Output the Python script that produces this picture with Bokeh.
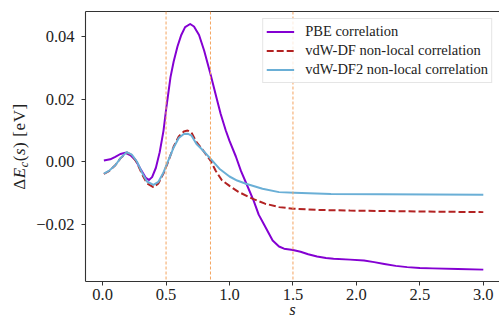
from bokeh.plotting import figure
from bokeh.layouts import row
from bokeh.models import (Range1d, LinearAxis, FixedTicker, Span, Legend, LegendItem, Div)
from bokeh.embed import file_html
from bokeh.resources import INLINE

# ---------------- data ----------------
pbe_s = [0.01, 0.06, 0.10, 0.14, 0.18, 0.22, 0.26, 0.30, 0.34, 0.365, 0.39, 0.42, 0.45,
         0.48, 0.50, 0.535, 0.56, 0.59, 0.62, 0.65, 0.69, 0.72, 0.76, 0.80, 0.85, 0.90,
         0.93, 0.97, 1.00, 1.05, 1.09, 1.13, 1.19, 1.23, 1.27, 1.34, 1.39, 1.43, 1.50, 1.56,
         1.62, 1.69, 1.76, 1.82, 1.95, 2.06, 2.14, 2.22, 2.31, 2.40, 2.50, 2.60, 2.80, 3.00]
pbe_v = [0.0003, 0.0007, 0.0015, 0.0024, 0.0028, 0.0020, 0.0004, -0.0025, -0.0052, -0.0059,
         -0.0050, -0.0020, 0.0030, 0.0099, 0.0165, 0.0270, 0.0320, 0.0368, 0.0405, 0.0430,
         0.0440, 0.0432, 0.0405, 0.0355, 0.0280, 0.0200, 0.0153, 0.0100, 0.0066, 0.0016,
         -0.0030, -0.0068, -0.0125, -0.0170, -0.0200, -0.0253, -0.0272, -0.0279, -0.0283,
         -0.0289, -0.0297, -0.0304, -0.0309, -0.0311, -0.0314, -0.0317, -0.0322, -0.0328,
         -0.0334, -0.0338, -0.0341, -0.0342, -0.0344, -0.0346]

df_s = [0.01, 0.05, 0.10, 0.14, 0.19, 0.23, 0.27, 0.31, 0.35, 0.40, 0.44, 0.48, 0.52, 0.56,
        0.60, 0.64, 0.67, 0.70, 0.74, 0.78, 0.85, 0.89, 0.94, 1.00, 1.07, 1.18, 1.28, 1.39,
        1.50, 1.70, 1.95, 2.50, 3.00]
df_v = [-0.0040, -0.0031, -0.0012, 0.0010, 0.0029, 0.0020, -0.0003, -0.0040, -0.0070, -0.0082,
        -0.0070, -0.0038, 0.0003, 0.0048, 0.0080, 0.0096, 0.0099, 0.0093, 0.0062, 0.0042,
        0.0003, -0.0029, -0.0060, -0.0078, -0.0097, -0.0119, -0.0135, -0.0146, -0.0151,
        -0.0155, -0.0157, -0.0160, -0.0162]

df2_s = [0.01, 0.05, 0.10, 0.14, 0.19, 0.23, 0.27, 0.31, 0.35, 0.40, 0.44, 0.48, 0.52, 0.56,
         0.60, 0.64, 0.67, 0.70, 0.74, 0.78, 0.85, 0.92, 1.00, 1.06, 1.13, 1.26, 1.39, 1.51,
         1.80, 2.20, 3.00]
df2_v = [-0.0039, -0.0030, -0.0012, 0.0010, 0.0030, 0.0022, 0.0000, -0.0035, -0.0064, -0.0075,
         -0.0065, -0.0035, 0.0005, 0.0045, 0.0075, 0.0088, 0.0089, 0.0083, 0.0056, 0.0040,
         0.0009, -0.0023, -0.0048, -0.0061, -0.0071, -0.0087, -0.0098, -0.0100, -0.0104,
         -0.0105, -0.0106]

vlines = [0.5, 0.85, 1.5]

legend_labels = ["PBE correlation", "vdW-DF non-local correlation", "vdW-DF2 non-local correlation"]

x_ticks = [0.0, 0.5, 1.0, 1.5, 2.0, 2.5, 3.0]
x_tick_labels = ["0.0", "0.5", "1.0", "1.5", "2.0", "2.5", "3.0"]
y_ticks = [0.04, 0.02, 0.0, -0.02]
y_tick_labels = ["0.04", "0.02", "0.00", "\u22120.02"]
x_label = "s"
y_label_html = "\u0394<i>E</i><sub><i>c</i></sub>(<i>s</i>) [eV]"

# ---------------- styling ----------------
FONT = "Liberation Serif"
AX = "#333333"
TXT = "#222222"
C_PBE = "#8400d2"
C_DF = "#b22222"
C_DF2 = "#6aafd6"
C_V = "#f4a460"

W, H = 499, 322
YW = 32                      # strip that holds the y-axis title
L, T, B = 85 - YW, 11, 41

X0, X1 = -0.1348, 3.1276
Y0, Y1 = -0.0384, 0.0480

p = figure(width=W - YW, height=H, output_backend="svg", toolbar_location=None,
           x_range=Range1d(X0, X1), y_range=Range1d(Y0, Y1),
           x_axis_location=None, y_axis_location=None,
           min_border_left=L, min_border_right=0, min_border_top=T, min_border_bottom=B)
p.outline_line_color = None
p.xgrid.visible = False
p.ygrid.visible = False
p.background_fill_color = "white"
p.border_fill_color = "white"


def style_axis(ax):
    ax.axis_line_color = AX
    ax.axis_line_width = 1.1
    ax.major_tick_line_color = AX
    ax.major_tick_line_width = 1.0
    ax.major_tick_out = 4
    ax.major_tick_in = 0
    ax.minor_tick_line_color = None
    ax.major_label_text_font = FONT
    ax.major_label_text_font_size = "16.5px"
    ax.major_label_text_color = TXT


xa = LinearAxis(ticker=FixedTicker(ticks=x_ticks),
                major_label_overrides=dict(zip(x_ticks, x_tick_labels)))
style_axis(xa)
xa.major_label_standoff = 3
xa.axis_label = x_label
xa.axis_label_text_font = FONT
xa.axis_label_text_font_style = "italic"
xa.axis_label_text_font_size = "16.5px"
xa.axis_label_text_color = TXT
xa.axis_label_standoff = -3
p.add_layout(xa, "below")

ya = LinearAxis(ticker=FixedTicker(ticks=y_ticks),
                major_label_overrides=dict(zip(y_ticks, y_tick_labels)))
style_axis(ya)
ya.major_label_standoff = 7
p.add_layout(ya, "left")

top = LinearAxis(ticker=FixedTicker(ticks=[]), major_label_text_font_size="0px")
top.axis_line_color = AX
top.axis_line_width = 1.1
top.major_tick_line_color = None
top.minor_tick_line_color = None
p.add_layout(top, "above")

for xv in vlines:
    p.add_layout(Span(location=xv, dimension="height", line_color=C_V,
                      line_width=1, line_dash="3 2"))

r1 = p.line(pbe_s, pbe_v, line_color=C_PBE, line_width=2, line_join="round")
r2 = p.line(df_s, df_v, line_color=C_DF, line_width=2, line_dash="7 3")
r3 = p.line(df2_s, df2_v, line_color=C_DF2, line_width=2, line_join="round")

legend = Legend(items=[LegendItem(label=legend_labels[0], renderers=[r1]),
                       LegendItem(label=legend_labels[1], renderers=[r2]),
                       LegendItem(label=legend_labels[2], renderers=[r3])],
                location="top_right")
legend.margin = 7
legend.padding = 3
legend.spacing = 0
legend.glyph_width = 28
legend.glyph_height = 19
legend.label_height = 19
legend.label_standoff = 11
legend.label_text_font = FONT
legend.label_text_font_size = "14.5px"
legend.label_text_color = TXT
legend.border_line_color = "#cccccc"
legend.border_line_width = 1
legend.background_fill_color = "white"
legend.background_fill_alpha = 0.8
p.add_layout(legend)

# ---------------- y-axis title (real HTML text, rotated) ----------------
y_html = (
    '<div style="position:relative;width:%dpx;height:%dpx;overflow:visible;">'
    '<div style="position:absolute;left:0;top:0;white-space:nowrap;'
    "font-family:'%s',serif;font-size:17px;line-height:19px;letter-spacing:0.6px;"
    'color:%s;transform-origin:0 0;'
    'transform:translate(9.8px,146.5px) rotate(-90deg) translate(-50%%,0);">'
    '%s</div></div>'
) % (YW, H, FONT, TXT, y_label_html.replace(
    "<sub>", '<sub style="font-size:70%;line-height:0;vertical-align:-3px;">'))

yd = Div(text=y_html, width=YW, height=H, margin=0)

lay = row(yd, p, spacing=0)
open("out.html", "w").write(file_html(lay, INLINE))
